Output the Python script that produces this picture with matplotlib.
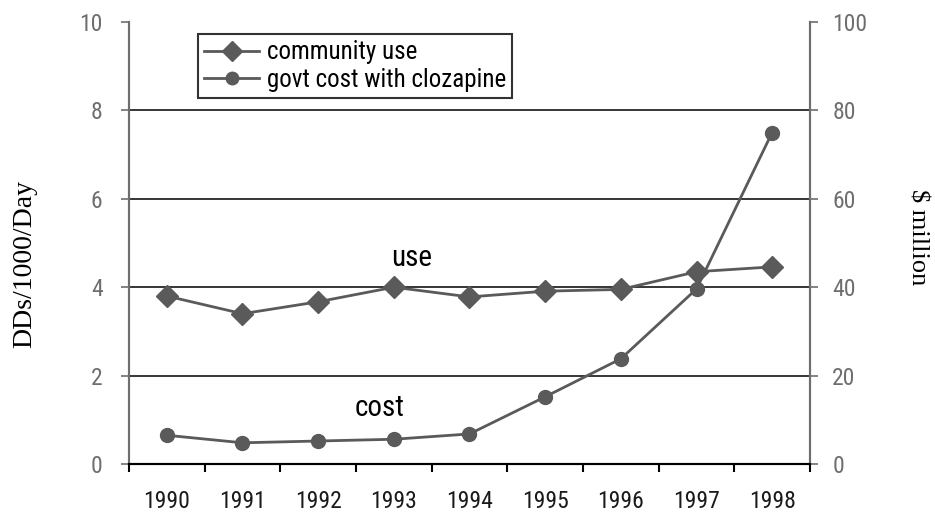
import numpy as np
import matplotlib
matplotlib.use("Agg")
import matplotlib.pyplot as plt

plt.rcParams["font.family"] = ["Roboto Condensed", "Liberation Sans Narrow", "Roboto", "DejaVu Sans"]

years = ["1990", "1991", "1992", "1993", "1994", "1995", "1996", "1997", "1998"]
use = [3.80, 3.40, 3.67, 4.00, 3.78, 3.91, 3.95, 4.35, 4.46]
cost = [6.5, 4.8, 5.2, 5.6, 6.8, 15.2, 23.8, 39.6, 75.0]

GREY = "#5a5a5a"
AX = "#6e6e6e"
W, H = 935, 513

fig = plt.figure(figsize=(W / 100, H / 100), dpi=100)
ax = fig.add_axes([129 / W, 1 - 464 / H, 681 / W, 442 / H])
ax2 = ax.twinx()

x = np.arange(len(years))
l1, = ax.plot(x, use, color=GREY, lw=2, marker="D", ms=11, mfc=GREY, mec=GREY,
              label="community use", zorder=3)
l2, = ax2.plot(x, cost, color=GREY, lw=2, marker="o", ms=10, mfc=GREY, mec=GREY,
               label="govt cost with clozapine", zorder=3)

ax.set_xlim(-0.5, len(years) - 0.5)
ax.set_ylim(0, 10)
ax2.set_ylim(0, 100)
ax.set_yticks(range(0, 11, 2))
ax2.set_yticks(range(0, 101, 20))
ax.set_xticks(x)
ax.set_xticklabels(years)
ax.set_xticks(np.arange(-0.5, len(years), 1.0), minor=True)
ax.tick_params(axis="x", which="major", length=0, pad=19, labelsize=17, labelcolor="#1a1a1a")
ax.tick_params(axis="x", which="minor", length=6, width=1.5, color="black", direction="out")
ax.tick_params(axis="y", length=6, width=1.2, color=AX, labelsize=17, labelcolor=AX, pad=13)
ax2.tick_params(axis="y", length=6, width=1.2, color=AX, labelsize=17, labelcolor=AX, pad=10)

for v in [2, 4, 6, 8]:
    ax.axhline(v, color="black", lw=1.1, zorder=1)

for a in (ax, ax2):
    a.spines["top"].set_visible(False)
    a.spines["left"].set_color(AX)
    a.spines["right"].set_color(AX)
    a.spines["left"].set_linewidth(1.5)
    a.spines["right"].set_linewidth(1.5)
    a.spines["bottom"].set_color("black")
    a.spines["bottom"].set_linewidth(1.5)

fig.text(25 / W, 1 - 264 / H, "DDs/1000/Day", family="Liberation Serif", fontsize=20,
         rotation=90, ha="center", va="center", color="black")
fig.text(918 / W, 1 - 237 / H, "$ million", family="Liberation Serif", fontsize=19,
         rotation=270, ha="center", va="center", color="black")

ax.text(3.24, 4.66, "use", fontsize=21, ha="center", va="center", color="black")
ax.text(2.81, 1.27, "cost", fontsize=21, ha="center", va="center", color="black")

leg = fig.legend([l1, l2], ["community use", "govt cost with clozapine"],
                 loc="upper left", bbox_to_anchor=(198 / W, 1 - 34 / H), fontsize=18,
                 frameon=True, fancybox=False, borderpad=0.25, borderaxespad=0,
                 handlelength=2.2, handletextpad=0.3, labelspacing=0.15, markerscale=0.9)
leg.get_frame().set_edgecolor("black")
leg.get_frame().set_linewidth(1.5)

fig.savefig("out.png", dpi=100)
